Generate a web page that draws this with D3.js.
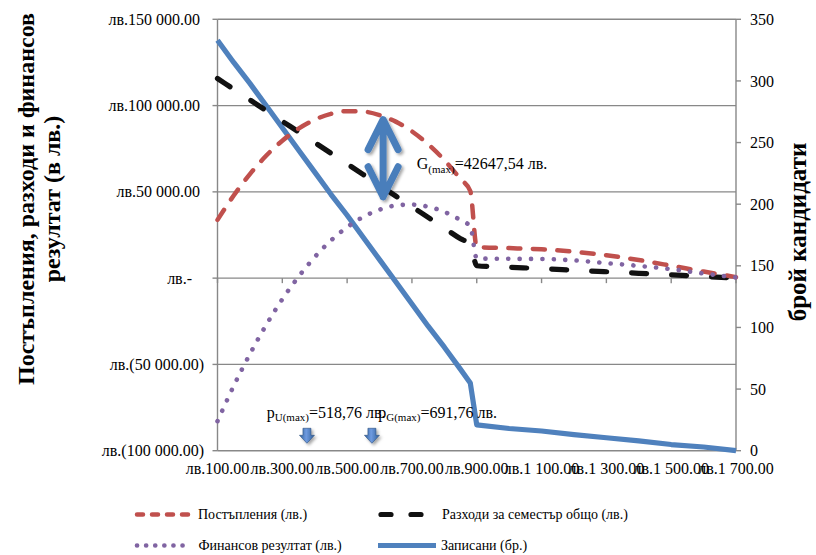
<!DOCTYPE html>
<html><head><meta charset="utf-8">
<script src="https://cdn.jsdelivr.net/npm/d3@7"></script>
<style>
body{margin:0;background:#fff}
svg{display:block}
text{font-family:"Liberation Serif","Times New Roman",serif;fill:#000}
</style>
</head><body>
<svg id="c" width="816" height="555"></svg>
<script>
// ---- data ----
const prices   = [100,150,200,250,300,350,400,450,500,550,600,650,700,750,800,850,880,900,1000,1100,1200,1300,1400,1500,1600,1700];
const revenue  = [33750,47900,60300,70900,79650,86600,91800,95200,96750,96500,94500,90700,85050,77600,68400,57400,50500,18000,17400,16700,15300,13300,10500,7200,3800,600];
const costs    = [115700,109500,103300,97100,90900,84800,78600,72400,66200,60000,53800,47600,41400,35200,29000,22800,19600,7200,6300,5500,4600,3700,2800,1900,1000,0];
const result   = [-82900,-62500,-44000,-27200,-12200,800,12200,21800,29500,35500,39700,42100,42600,41400,38400,33600,30000,11400,11200,11100,10300,8700,7100,5200,2700,400];
const enrolled = [333,315,298,280,262,244,226,208,191,173,155,137,119,101,84,66,55,21,18,16,13,10.5,8,5,3,0];

const xTickValues = [100,300,500,700,900,1100,1300,1500,1700];
const yTickValues = [-100000,-50000,0,50000,100000,150000];
const y2TickValues = [0,50,100,150,200,250,300,350];

const seriesNames = ["Постъпления (лв.)","Разходи за семестър общо (лв.)","Финансов резултат (лв.)","Записани (бр.)"];
const yTitle = ["Постъпления, разходи и финансов","резултат (в лв.)"];
const y2Title = "брой кандидати";

// annotation anchors in data units
const arrowP = 611, arrowTop = 93000, arrowBottom = 46000;
const gLabel = {p:715, v:63500, text:"=42647,54 лв."};
const pULabel = {p:252, v:-81300, text:"=518,76 лв."};
const pGLabel = {p:596, v:-81300, text:"=691,76 лв."};
const downArrowsP = [376, 576.5];
const downArrowV = -87000;

// ---- scales ----
const svg = d3.select("#c");
const x = d3.scaleLinear().domain([100,1700]).range([217.5,736]);
const y = d3.scaleLinear().domain([-100000,150000]).range([450.7,19.3]);
const y2 = d3.scaleLinear().domain([0,350]).range([450.7,19.3]);
const grid = "#888888";

const defs = svg.append("defs");
const f = defs.append("filter").attr("id","sh").attr("x","-50%").attr("y","-50%").attr("width","200%").attr("height","200%");
f.append("feDropShadow").attr("dx",2).attr("dy",2).attr("stdDeviation",1.8).attr("flood-color","#000").attr("flood-opacity",0.35);
const lg = defs.append("linearGradient").attr("id","ag").attr("x1",0).attr("y1",0).attr("x2",1).attr("y2",0);
lg.append("stop").attr("offset","0%").attr("stop-color","#2f5e99");
lg.append("stop").attr("offset","45%").attr("stop-color","#6f9be0");
lg.append("stop").attr("offset","100%").attr("stop-color","#2f5e99");

const fmtNum = v => d3.format(",.2f")(v).replace(/,/g," ");
const fmtLv = v => v===0 ? "лв.-" : (v<0 ? "лв.(" + fmtNum(-v) + ")" : "лв." + fmtNum(v));

// gridlines
svg.append("g").selectAll("line").data(yTickValues).join("line")
  .attr("x1",x(100)).attr("x2",x(1700)).attr("y1",d=>y(d)).attr("y2",d=>y(d))
  .attr("stroke",grid).attr("stroke-width",1.4);

// left axis
const gl = svg.append("g");
gl.append("line").attr("x1",x(100)).attr("x2",x(100)).attr("y1",y(150000)).attr("y2",y(-100000)).attr("stroke",grid).attr("stroke-width",1.4);
gl.selectAll("line.t").data(yTickValues).join("line").attr("class","t")
  .attr("x1",x(100)-5).attr("x2",x(100)).attr("y1",d=>y(d)).attr("y2",d=>y(d)).attr("stroke",grid).attr("stroke-width",1.4);
gl.selectAll("text").data(yTickValues).join("text")
  .attr("x",d=> x(100) - 13.5 - (d>0?4:(d===0?12:0)))
  .attr("y",d=>y(d)).attr("dy","0.35em").attr("text-anchor","end")
  .style("font-size","16px").text(fmtLv);

// right axis
const gr = svg.append("g");
gr.append("line").attr("x1",x(1700)).attr("x2",x(1700)).attr("y1",y2(350)).attr("y2",y2(0)).attr("stroke",grid).attr("stroke-width",1.4);
gr.selectAll("line.t").data(y2TickValues).join("line").attr("class","t")
  .attr("x1",x(1700)).attr("x2",x(1700)+5).attr("y1",d=>y2(d)).attr("y2",d=>y2(d)).attr("stroke",grid).attr("stroke-width",1.4);
gr.selectAll("text").data(y2TickValues).join("text")
  .attr("x",x(1700)+14).attr("y",d=>y2(d)).attr("dy","0.35em")
  .style("font-size","16px").text(d=>d);

// x axis (crosses at 0, labels low)
const gx = svg.append("g");
gx.selectAll("line").data(xTickValues).join("line")
  .attr("x1",d=>x(d)).attr("x2",d=>x(d)).attr("y1",y(0)).attr("y2",y(0)+5).attr("stroke",grid).attr("stroke-width",1.4);
gx.selectAll("text").data(xTickValues).join("text")
  .attr("x",d=>x(d)).attr("y",y(-100000)+23.5).attr("text-anchor","middle")
  .style("font-size","16px").text(fmtLv);

// titles
const tl = svg.append("text").attr("transform","translate(33.5,199) rotate(-90)").attr("text-anchor","middle")
  .style("font-size","24px").style("font-weight","bold");
tl.append("tspan").attr("x",0).attr("y",0).text(yTitle[0]);
tl.append("tspan").attr("x",0).attr("y",26).text(yTitle[1]);
svg.append("text").attr("transform","translate(806,232) rotate(-90)").attr("text-anchor","middle")
  .style("font-size","25px").style("font-weight","bold").text(y2Title);

// series
const pts = arr => prices.map((p,i)=>({p, v:arr[i]}));
const lineL = d3.line().x(d=>x(d.p)).y(d=>y(d.v)).curve(d3.curveMonotoneX);
const lineR = d3.line().x(d=>x(d.p)).y(d=>y2(d.v));

const styles = [
  {color:"#c0504d", w:4.5, dash:"12,12.5"},
  {color:"#111111", w:5.2, dash:"15,25"},
  {color:"#8064a2", w:4.6, dash:"0.1,11.3"},
  {color:"#4f81bd", w:5.2, dash:null}
];
const gs = svg.append("g").attr("fill","none").attr("stroke-linecap","round").attr("stroke-linejoin","round");
gs.append("path").attr("d",lineR(pts(enrolled))).attr("stroke",styles[3].color).attr("stroke-width",styles[3].w).attr("stroke-linecap","butt");
gs.append("path").attr("d",lineL(pts(costs))).attr("stroke",styles[1].color).attr("stroke-width",styles[1].w).attr("stroke-dasharray",styles[1].dash);
gs.append("path").attr("d",lineL(pts(revenue))).attr("stroke",styles[0].color).attr("stroke-width",styles[0].w).attr("stroke-dasharray",styles[0].dash);
gs.append("path").attr("d",lineL(pts(result))).attr("stroke",styles[2].color).attr("stroke-width",styles[2].w).attr("stroke-dasharray",styles[2].dash);

// double arrow
const ax = x(arrowP), at = y(arrowTop), ab = y(arrowBottom);
svg.append("path")
  .attr("d",`M${ax},${at+2}V${ab-2}M${ax-15},${at+32}L${ax},${at+2}L${ax+15},${at+32}M${ax-15},${ab-32}L${ax},${ab-2}L${ax+15},${ab-32}`)
  .attr("fill","none").attr("stroke","#4a7ebb").attr("stroke-width",7).attr("stroke-linecap","round").attr("stroke-linejoin","round")
  .attr("filter","url(#sh)");

// G(max) label
const gt = svg.append("text").attr("x",x(gLabel.p)).attr("y",y(gLabel.v)).style("font-size","16px");
gt.append("tspan").text("G");
gt.append("tspan").attr("dy",4).style("font-size","11px").text("(max)");
gt.append("tspan").attr("dy",-4).text(gLabel.text);

// p labels
[[pULabel,"U(max)"],[pGLabel,"G(max)"]].forEach(([l,sub])=>{
  const t = svg.append("text").attr("x",x(l.p)).attr("y",y(l.v)).style("font-size","16px");
  t.append("tspan").text("p");
  t.append("tspan").attr("dy",3).style("font-size","11px").text(sub);
  t.append("tspan").attr("dy",-3).text(l.text);
});

// small down arrows
svg.append("g").selectAll("path").data(downArrowsP).join("path")
  .attr("d",d=>{const cx=x(d), t=y(downArrowV); return `M${cx-4},${t}H${cx+4}V${t+7}H${cx+7.5}L${cx},${t+15}L${cx-7.5},${t+7}H${cx-4}Z`;})
  .attr("fill","url(#ag)").attr("stroke","#2c5080").attr("stroke-width",0.6).attr("filter","url(#sh)");

// legend
const legend = svg.append("g");
const legItems = [
  {i:0, x1:137, x2:192, y:514.5, tx:198, dash:"6,9"},
  {i:1, x1:381, x2:421, y:514.5, tx:442, dash:"10,20"},
  {i:2, x1:137, x2:191, y:545.5, tx:198.5, dash:"0.1,9"},
  {i:3, x1:378, x2:436, y:545.5, tx:441, dash:null}
];
legItems.forEach(it=>{
  const s = styles[it.i];
  legend.append("line").attr("x1",it.x1).attr("x2",it.x2).attr("y1",it.y).attr("y2",it.y)
    .attr("stroke",s.color).attr("stroke-width",s.w).attr("stroke-linecap",s.dash?"round":"butt")
    .attr("stroke-dasharray",it.dash);
  legend.append("text").attr("x",it.tx).attr("y",it.y).attr("dy","0.35em").style("font-size","14px").text(seriesNames[it.i]);
});
</script>
</body></html>
